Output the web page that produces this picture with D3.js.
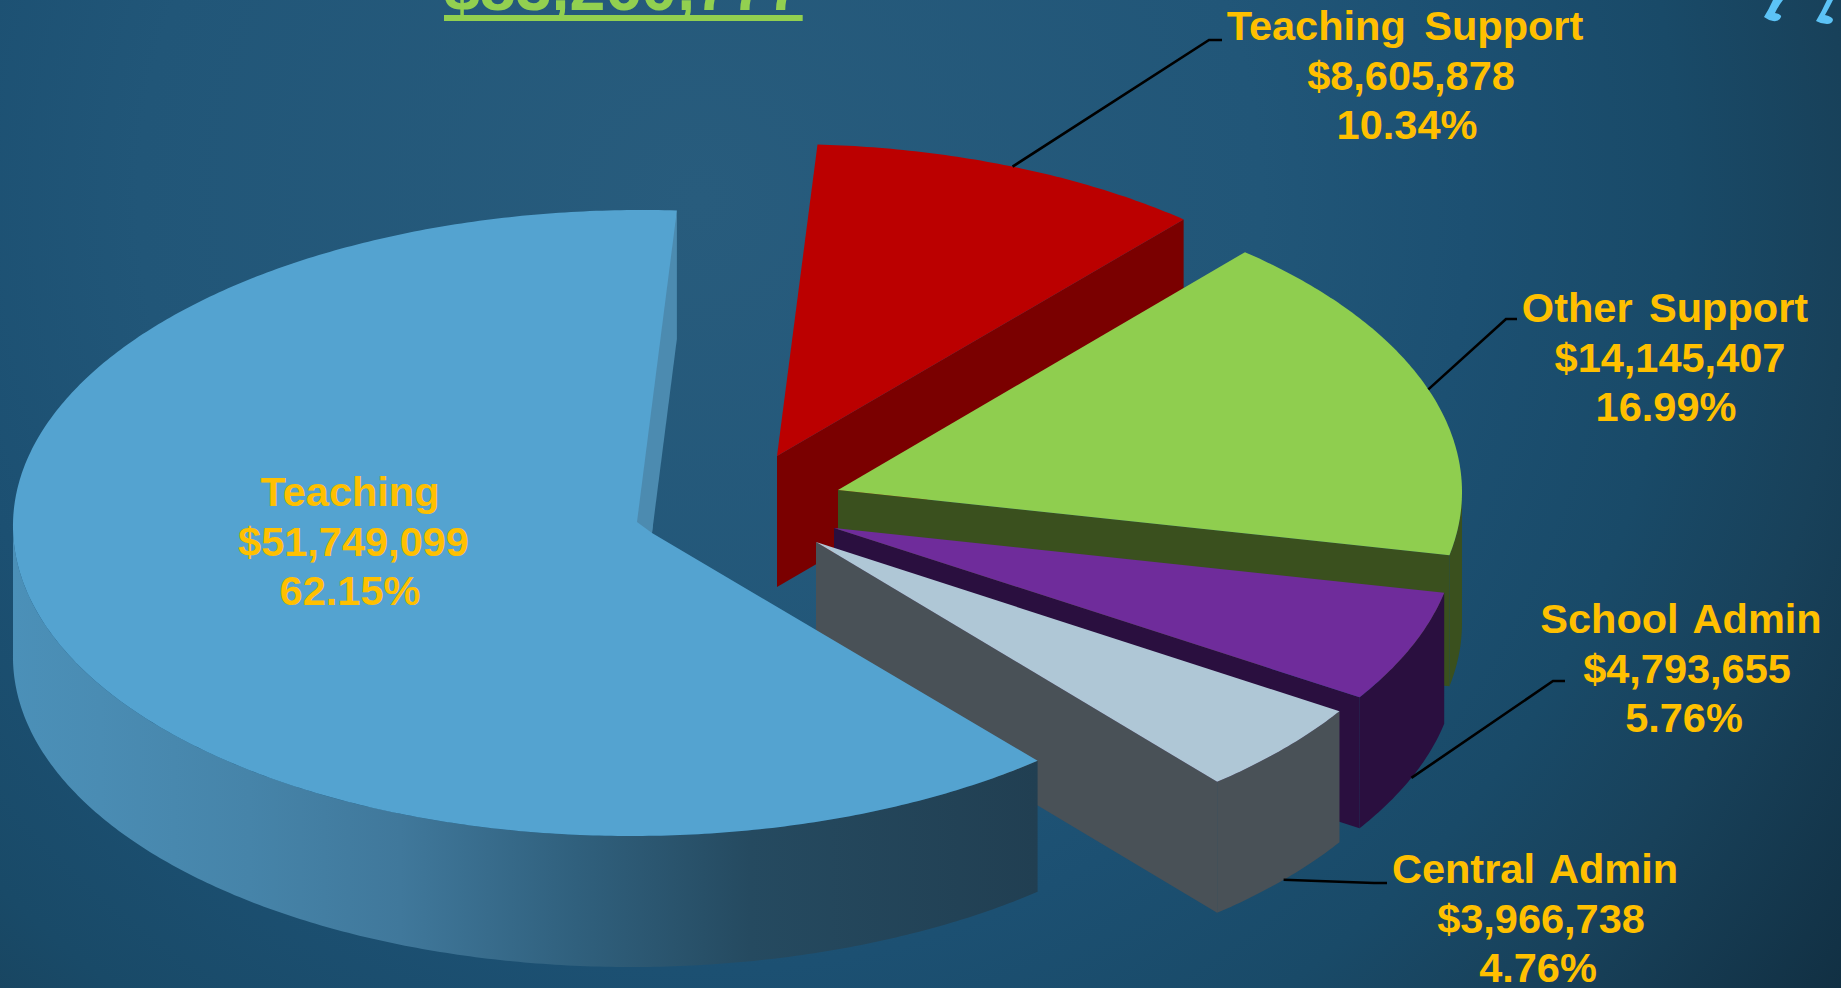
<!DOCTYPE html>
<html>
<head>
<meta charset="utf-8">
<script src="https://cdn.jsdelivr.net/npm/d3@7/dist/d3.min.js"></script>
<style>
  html, body { margin: 0; padding: 0; overflow: hidden; background: #1a4661; }
  svg { display: block; }
  text { font-family: "Liberation Sans", Arial, sans-serif; font-weight: 700; }
</style>
</head>
<body>
<svg id="chart" width="1841" height="988"></svg>
<script>
// Budget categories, clockwise from the top of the pie.
const categories = ["Teaching Support", "Other Support", "School Admin", "Central Admin", "Teaching"];
const amounts = [8605878, 14145407, 4793655, 3966738, 51749099];

// Drawing configuration for each slice, in the same order as the categories.
const topColors = ["#bb0000", "#8fce4f", "#6f2c9b", "#afc7d6", "#54a3d0"];
const wallColors = ["#7a0000", "#3a501e", "#2a0f3f", "#495157", null];
const ellipseCentres = [[783, 460], [845, 492], [827, 530], [809.5, 544], [636.5, 523]];
const ellipseRadii = [[618, 316], [617, 315], [630, 313], [627, 313], [623.5, 313]];
const ellipseShear = [0, 0, 0, 0, -5.6];
const apexPoints = [[777, 456], [838, 490], [834, 528], [816, 542], [652, 533]];
const labelAnchors = [[1405, 40], [1665, 322], [1681, 633], [1535, 883], [350, 506]];
const lineNudges = [[0, 6, 2], [0, 5, 1], [0, 6, 3], [0, 6, 3], [0, 3.5, 0]];
const nameWordGaps = [7, 5, 4, 4, 0];
const leaderEnds = [[1209, 40, 1222], [1506, 319, 1517], [1553, 681, 1565], [1374, 883, 1387], null];

const DEPTH = 131, LINE_GAP = 49.7, LABEL_SIZE = 41.5;
const START = 3.2 * Math.PI / 180;

const svg = d3.select("#chart");
const defs = svg.append("defs");
const money = d3.format("$,");
const pct = d3.format(".2%");
const total = d3.sum(amounts);

// Page background: a soft glow near the top fading to darker corners.
const glow = defs.append("radialGradient").attr("id", "page")
  .attr("gradientUnits", "userSpaceOnUse")
  .attr("cx", 700).attr("cy", 200).attr("r", 1400);
[[0, "#285c7d"], [0.4, "#215678"], [0.55, "#1c5072"], [0.7, "#194a68"], [0.82, "#18415a"], [1, "#112f42"]]
  .forEach(([o, c]) => glow.append("stop").attr("offset", o).attr("stop-color", c));
svg.append("rect").attr("width", 1841).attr("height", 988).attr("fill", "url(#page)");

// Shaded rim of the large slice, lit from the left.
const rimShade = defs.append("linearGradient").attr("id", "rim")
  .attr("gradientUnits", "userSpaceOnUse").attr("x1", 13).attr("x2", 1038).attr("y1", 0).attr("y2", 0);
[[0, "#4b90b8"], [0.085, "#4a8cb3"], [0.23, "#4684a9"], [0.378, "#40789b"], [0.55, "#30607d"], [0.72, "#254a60"], [1, "#213f52"]]
  .forEach(([o, c]) => rimShade.append("stop").attr("offset", o).attr("stop-color", c));

const slices = d3.pie().sort(null).startAngle(START).endAngle(START + 2 * Math.PI)(amounts);

// Unit circle coordinates mapped onto the flattened disc of each slice.
const xScales = ellipseRadii.map(([rx]) => d3.scaleLinear().domain([-1, 1]).range([-rx, rx]));
const yScales = ellipseRadii.map(([, ry]) => d3.scaleLinear().domain([-1, 1]).range([-ry, ry]));
const rimPoint = (i, a, drop = 0) => [
  ellipseCentres[i][0] + xScales[i](Math.sin(a)) - ellipseShear[i] * Math.cos(a),
  ellipseCentres[i][1] + yScales[i](-Math.cos(a)) + drop
];
const arcPoints = (i, a0, a1, drop = 0) => {
  const n = Math.max(2, Math.ceil(Math.abs(a1 - a0) / 0.01));
  return d3.range(n + 1).map(k => rimPoint(i, a0 + (a1 - a0) * k / n, drop));
};
const outline = d3.line().curve(d3.curveLinear);
const closed = pts => outline(pts) + "Z";

const drawOrder = [0, 1, 2, 3, 4];
const pieLayer = svg.append("g");

drawOrder.forEach(i => {
  const s = slices[i];
  const g = pieLayer.append("g").attr("class", "slice");
  const apex = apexPoints[i];
  const wallFill = wallColors[i] || "url(#rim)";
  const lowest = Math.PI / 2, leftmost = 3 * Math.PI / 2;

  // Outer rim: only the part on the near side of the disc can be seen.
  const a0 = Math.max(s.startAngle, lowest), a1 = Math.min(s.endAngle, leftmost);
  if (a1 > a0) {
    const upper = arcPoints(i, a0, a1);
    const lower = arcPoints(i, a0, a1, DEPTH).reverse();
    g.append("path").attr("d", closed(upper.concat(lower))).attr("fill", wallFill);
  }

  // Cut face running from the centre out to the end of the arc.
  if (wallColors[i]) {
    const rimEnd = rimPoint(i, s.endAngle);
    g.append("path")
      .attr("d", closed([apex, rimEnd, [rimEnd[0], rimEnd[1] + DEPTH], [apex[0], apex[1] + DEPTH]]))
      .attr("fill", wallColors[i]);
  }

  // Top face.
  const span = arcPoints(i, s.startAngle, s.endAngle);
  g.append("path").attr("d", closed([apex].concat(span))).attr("fill", topColors[i]);

  // The large slice shows a sliver of its far cut face beside the notch.
  if (!wallColors[i]) {
    const r = rimPoint(i, s.endAngle - 2 * Math.PI);
    g.append("path")
      .attr("d", closed([r, [r[0], r[1] + DEPTH * 0.98], apex, [apex[0] - 15, apex[1] - 11]]))
      .attr("fill", "#4c8bb0");
  }
});

// Leader lines from the rim out to each label.
slices.forEach((s, i) => {
  if (!leaderEnds[i]) return;
  const mid = (s.startAngle + s.endAngle) / 2;
  const nearSide = Math.cos(mid) < -0.2;
  const from = rimPoint(i, mid, nearSide ? DEPTH : 0);
  const [ex, ey, tail] = leaderEnds[i];
  svg.append("path")
    .attr("d", d3.line()([from, [ex, ey], [tail, ey]]))
    .attr("fill", "none").attr("stroke", "#000").attr("stroke-width", 2.6);
});

// Three-line labels: name, amount, share of the total.
slices.forEach((s, i) => {
  const [lx, ly] = labelAnchors[i];
  const t = svg.append("text").attr("text-anchor", "middle")
    .attr("fill", "#ffc000").attr("font-size", LABEL_SIZE);
  [categories[i], money(amounts[i]), pct(amounts[i] / total)].forEach((line, k) => {
    t.append("tspan").attr("x", lx + lineNudges[i][k]).attr("y", ly + k * LINE_GAP)
      .attr("word-spacing", k === 0 ? nameWordGaps[i] : 0).text(line);
  });
});

// Grand total, underlined, running off the top edge of the page.
const titleColor = "#92d050";
const title = svg.append("text").attr("x", 444).attr("y", 10)
  .attr("fill", titleColor).attr("font-size", 64.5).text(money(total));
const titleWidth = title.node().getComputedTextLength();
svg.append("rect").attr("x", 444).attr("y", 15).attr("width", titleWidth).attr("height", 6).attr("fill", titleColor);

// Two curled ornaments clipped by the top right corner.
const ornamentColor = "#5cc3f6";
svg.append("path").attr("fill", ornamentColor)
  .attr("d", "M1773,0L1783,0Q1777,8 1775,13Q1782,14 1781,17Q1779,22 1773,21Q1768,20 1764,17Q1769,9 1773,0Z");
svg.append("path").attr("fill", ornamentColor)
  .attr("d", "M1827,0L1833,0Q1829,8 1825,15Q1833,17 1833,20Q1832,24 1827,24Q1821,24 1816,21Q1822,11 1827,0Z");
</script>
</body>
</html>
